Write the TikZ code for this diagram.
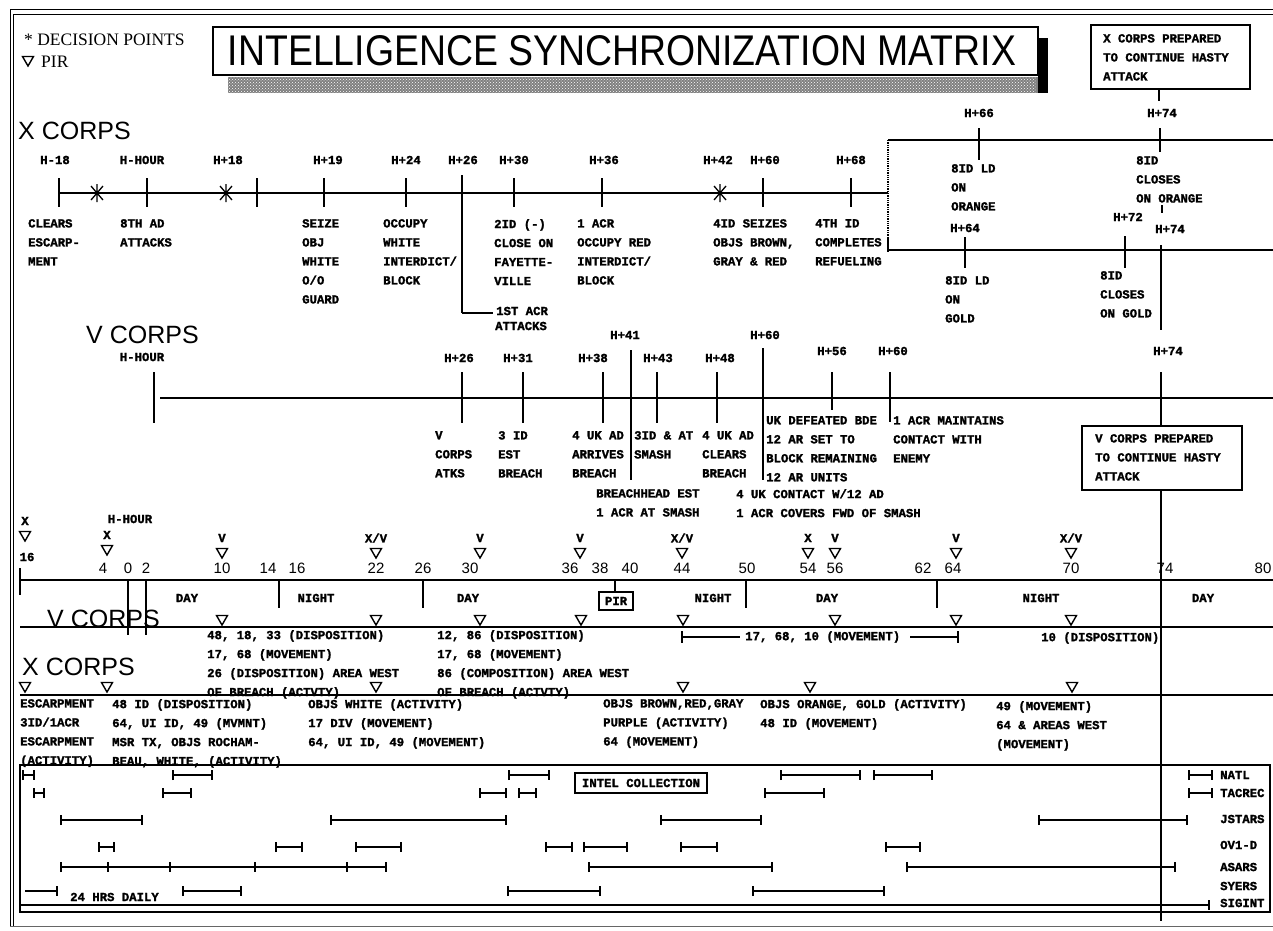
\documentclass[tikz,border=0pt]{standalone}
\usepackage{fontspec}
\usetikzlibrary{arrows.meta,patterns}
\newfontfamily\labfont{Liberation Mono}[BoldFeatures={FakeBold=1.6}]
\newfontfamily\headfont{Liberation Sans}
\newfontfamily\legfont{Liberation Serif}
\tikzset{
 lf/.style={font=\labfont\bfseries\fontsize{12.3}{19}\selectfont, inner sep=0pt},
 lab/.style={lf, align=left, anchor=north west},
 labw/.style={lf, anchor=west},
 labc/.style={lf},
 hdg/.style={font=\headfont\fontsize{25}{25}\selectfont, inner sep=0pt, anchor=west},
 num/.style={font=\headfont\fontsize{15}{15}\selectfont, inner sep=0pt},
 leg/.style={font=\legfont\fontsize{17.5}{17.5}\selectfont, anchor=west, inner sep=0pt},
 hl/.style={line width=1.3pt},
 tk/.style={line width=1.8pt},
 cbar/.style={line width=1.3pt, {Bar[width=10pt,line width=1.7pt]}-{Bar[width=10pt,line width=1.7pt]}},
 cbarR/.style={line width=1.3pt, -{Bar[width=10pt,line width=1.7pt]}},
 boxed/.style={draw, line width=1.3pt, fill=white},
 dp/.pic={\draw[line width=1.3pt] (-6,-7)--(6,7) (-6,7)--(6,-7) (0,-9)--(0,9);},
 pirm/.pic={\draw[line width=1.4pt] (-5.5,-4.5)--(5.5,-4.5)--(0,5)--cycle;},
}
\newcommand\mkr[3]{\node[labc] (m#1) at (#1,#2) {#3}; \pic at (#1,#2+15) {pirm};}
\newcommand\barrow[2]{\foreach \a/\b in {#2} {\draw[cbar] (\a,#1)--(\b,#1);}}
\begin{document}
\begin{tikzpicture}[x=1pt,y=-1pt]
\useasboundingbox (0,0) rectangle (1273,930);
\fill[white] (0,0) rectangle (1273,930);
% outer border
\draw[line width=1pt] (10,9)--(1273,9);
\draw[line width=1pt] (13.5,14)--(1273,14);
\draw[line width=1pt] (10,9)--(10,926);
\draw[line width=1pt] (13.5,14)--(13.5,926);
\draw[line width=0.8pt, black!60] (10,926)--(1273,926);

% title
\fill[black!50] (228,77) rectangle (1048,93);
\fill[pattern=crosshatch dots, pattern color=white] (228,77) rectangle (1036,93);
\fill (1038,38) rectangle (1048,93);
\draw[line width=1.5pt, fill=white] (213,27) rectangle (1038,75);
\node[inner sep=0pt] (title) at (622,51) {\resizebox{788pt}{30pt}{\headfont INTELLIGENCE SYNCHRONIZATION MATRIX}};

% legend
\node[leg] (leg1) at (24,40) {* DECISION POINTS};
\pic at (28,61) {pirm};
\node[leg] (leg2) at (41,62) {PIR};

% ================= X CORPS (top) =================
\node[hdg] (xc1) at (18,131) {X CORPS};
\draw[hl] (59,193)--(888,193);
\foreach \x in {59,147,257,324,406,514,602,763,851} {\draw[tk] (\x,178)--(\x,207);}
\draw[tk] (462,175)--(462,313);
\draw[hl] (462,313)--(493,313);
\pic at (97,193) {dp};
\pic at (226,193) {dp};
\pic at (720,193) {dp};
\foreach \x/\t in {55/H-18,142/H-HOUR,228/H+18,328/H+19,406/H+24,463/H+26,514/H+30,604/H+36,718/H+42,765/H+60,851/H+68}
 {\node[labc] (xa\x) at (\x,160) {\t};}
\node[lab] (x1) at (28,219) {CLEARS\\ESCARP-\\MENT};
\node[lab] (x2) at (120,219) {8TH AD\\ATTACKS};
\node[lab] (x3) at (302,219) {SEIZE\\OBJ\\WHITE\\O/O\\GUARD};
\node[lab] (x4) at (383,219) {OCCUPY\\WHITE\\INTERDICT/\\BLOCK};
\node[lab] (x5) at (494,219) {2ID (-)\\CLOSE ON\\FAYETTE-\\VILLE};
\node[lab] (x6) at (577,219) {1 ACR\\OCCUPY RED\\INTERDICT/\\BLOCK};
\node[lab] (x7) at (713,219) {4ID SEIZES\\OBJS BROWN,\\GRAY \& RED};
\node[lab] (x8) at (815,219) {4TH ID\\COMPLETES\\REFUELING};
\node[labw] (x9) at (496,311) {1ST ACR};
\node[labw] (x10) at (495,326) {ATTACKS};

% right part of X CORPS
\draw[hl] (888,140)--(1273,140);
\draw[hl] (888,250)--(1273,250);
\draw[hl, densely dotted] (888,140)--(888,237);
\draw[hl] (888,237)--(888,252);
\draw[tk] (979,128)--(979,160);
\node[labc] (xh66) at (979,113) {H+66};
\draw[line width=1.3pt] (1091,25) rectangle (1250,89);
\node[lab] (xboxt) at (1103,34) {X CORPS PREPARED\\TO CONTINUE HASTY\\ATTACK};
\draw[hl] (1159,89)--(1159,101);
\node[labc] (xh74a) at (1162,113) {H+74};
\draw[tk] (1160,128)--(1160,152);
\node[lab] (x11) at (951,164) {8ID LD\\ON\\ORANGE};
\node[lab] (x12) at (1136,156) {8ID\\CLOSES\\ON ORANGE};
\draw[hl] (1162,205)--(1162,213);
\node[labc] (xh64) at (965,228) {H+64};
\draw[tk] (965,237)--(965,268);
\node[lab] (x13) at (945,276) {8ID LD\\ON\\GOLD};
\node[labc] (xh72) at (1128,217) {H+72};
\draw[tk] (1125,236)--(1125,268);
\node[lab] (x14) at (1100,271) {8ID\\CLOSES\\ON GOLD};
\node[labc] (xh74b) at (1170,229) {H+74};
\draw[tk] (1161,245)--(1161,330);

% ================= V CORPS (top) =================
\node[hdg] (vc1) at (86,335) {V CORPS};
\node[labc] (vhh) at (142,357) {H-HOUR};
\draw[tk] (154,372)--(154,423);
\draw[hl] (160,398)--(1273,398);
\foreach \x in {462,523,603,657,717} {\draw[tk] (\x,372)--(\x,423);}
\draw[tk] (832,372)--(832,410);
\draw[tk] (890,372)--(890,422);
\draw[tk] (631,350)--(631,480);
\draw[tk] (763,348)--(763,480);
\foreach \x/\t in {459/H+26,518/H+31,593/H+38,658/H+43,720/H+48}
 {\node[labc] (va\x) at (\x,358) {\t};}
\node[labc] (vh41) at (625,335) {H+41};
\node[labc] (vh50) at (765,335) {H+60};
\node[labc] (vh56) at (832,351) {H+56};
\node[labc] (vh60) at (893,351) {H+60};
\node[labc] (vh74) at (1168,351) {H+74};
\draw[tk] (1161,372)--(1161,921);
\node[lab] (v1) at (435,431) {V\\CORPS\\ATKS};
\node[lab] (v2) at (498,431) {3 ID\\EST\\BREACH};
\node[lab] (v3) at (572,431) {4 UK AD\\ARRIVES\\BREACH};
\node[lab] (v4) at (634,431) {3ID \& AT\\SMASH};
\node[lab] (v5) at (702,431) {4 UK AD\\CLEARS\\BREACH};
\node[lab] (v6) at (766,416) {UK DEFEATED BDE\\12 AR SET TO\\BLOCK REMAINING\\12 AR UNITS};
\node[lab] (v7) at (893,416) {1 ACR MAINTAINS\\CONTACT WITH\\ENEMY};
\node[lab] (v8) at (596,489) {BREACHHEAD EST\\1 ACR AT SMASH};
\node[lab] (v9) at (736,489) {4 UK CONTACT W/12 AD\\1 ACR COVERS FWD OF SMASH};
\draw[line width=1.3pt, fill=white] (1082,426) rectangle (1242,490);
\node[lab] (vbox) at (1095,434) {V CORPS PREPARED\\TO CONTINUE HASTY\\ATTACK};

% ================= time scale =================
\draw[hl] (20,580)--(1273,580);
\draw[tk] (20,568)--(20,595);
\foreach \x/\t in {103/4,128/0,146/2,222/10,268/14,297/16,376/22,423/26,470/30,570/36,600/38,630/40,682/44,747/50,808/54,835/56,923/62,953/64,1071/70,1165/74,1263/80}
 {\node[num] (s\x) at (\x,568) {\t};}
\mkr{25}{521}{X}
\node[labc] (s16) at (27,557) {16};
\node[labc] (shh) at (130,519) {H-HOUR};
\mkr{107}{535}{X}
\mkr{222}{538}{V}
\mkr{376}{538}{X/V}
\mkr{480}{538}{V}
\mkr{580}{538}{V}
\mkr{682}{538}{X/V}
\mkr{808}{538}{X}
\mkr{835}{538}{V}
\mkr{956}{538}{V}
\mkr{1071}{538}{X/V}
\foreach \x in {279,423,746,937} {\draw[tk] (\x,580)--(\x,608);}
\draw[hl] (128,580)--(128,635);
\draw[hl] (146,580)--(146,635);
\draw[hl] (615,580)--(615,592);
\node[boxed, lf, minimum width=34pt, minimum height=18pt] (pir) at (616,601) {PIR};
\foreach \x/\t in {187/DAY,316/NIGHT,468/DAY,713/NIGHT,827/DAY,1041/NIGHT,1203/DAY}
 {\node[labc] (dn\x) at (\x,598) {\t};}
\foreach \x in {222,376,480,581,683,835,956,1071} {\pic at (\x,620) {pirm};}

% ================= V CORPS (lower) =================
\node[hdg] (vc2) at (47,619) {V CORPS};
\draw[hl] (20,627)--(1273,627);
\node[lab] (w1) at (207,630) {48, 18, 33 (DISPOSITION)\\17, 68 (MOVEMENT)\\26 (DISPOSITION) AREA WEST\\OF BREACH (ACTVTY)};
\node[lab] (w2) at (437,630) {12, 86 (DISPOSITION)\\17, 68 (MOVEMENT)\\86 (COMPOSITION) AREA WEST\\OF BREACH (ACTVTY)};
\draw[tk] (682,631)--(682,643);
\draw[hl] (682,637)--(740,637);
\node[labw] (w3) at (745,637) {17, 68, 10 (MOVEMENT)};
\draw[hl] (910,637)--(958,637);
\draw[tk] (958,631)--(958,643);
\node[labw] (w4) at (1041,638) {10 (DISPOSITION)};
\foreach \x in {25,107,376,683,810,1072} {\pic at (\x,687) {pirm};}

% ================= X CORPS (lower) =================
\node[hdg] (xc2) at (22,667) {X CORPS};
\draw[hl] (20,695)--(1273,695);
\node[lab] (y1) at (20,699) {ESCARPMENT\\3ID/1ACR\\ESCARPMENT\\(ACTIVITY)};
\node[lab] (y2) at (112,699) {48 ID (DISPOSITION)\\64, UI ID, 49 (MVMNT)\\MSR TX, OBJS ROCHAM-\\BEAU, WHITE, (ACTIVITY)};
\node[lab] (y3) at (308,699) {OBJS WHITE (ACTIVITY)\\17 DIV (MOVEMENT)\\64, UI ID, 49 (MOVEMENT)};
\node[lab] (y4) at (603,699) {OBJS BROWN,RED,GRAY\\PURPLE (ACTIVITY)\\64 (MOVEMENT)};
\node[lab] (y5) at (760,699) {OBJS ORANGE, GOLD (ACTIVITY)\\48 ID (MOVEMENT)};
\node[lab] (y6) at (996,701) {49 (MOVEMENT)\\64 \& AREAS WEST\\(MOVEMENT)};

% ================= intel collection =================
\draw[line width=1.3pt] (20,765) rectangle (1270,912);
\node[boxed, lf, minimum width=132pt, minimum height=20pt] (ic) at (641,783) {INTEL COLLECTION};
\barrow{775}{22/35,172/213,508/550,780/861,873/933,1188/1213}
\barrow{793}{33/45,162/192,479/507,518/537,764/825,1188/1213}
\barrow{820}{60/143,330/507,660/762,1038/1188}
\barrow{847}{98/115,275/303,355/402,545/573,583/628,680/718,885/921}
\barrow{867}{60/387,588/773,906/1176}
\foreach \x in {108,170,255,347} {\draw[line width=1.7pt] (\x,862)--(\x,872);}
\draw[cbarR] (25,891)--(58,891);
\barrow{891}{182/242,507/601,752/885}
\draw[cbarR] (20,905)--(1210,905);
\node[labw] (d24) at (70,897) {24 HRS DAILY};
\foreach \y/\t in {775/NATL,793/TACREC,819/JSTARS,845/OV1-D,867/ASARS,886/SYERS,903/SIGINT}
 {\node[labw] (r\y) at (1220,\y) {\t};}
\end{tikzpicture}
\end{document}
